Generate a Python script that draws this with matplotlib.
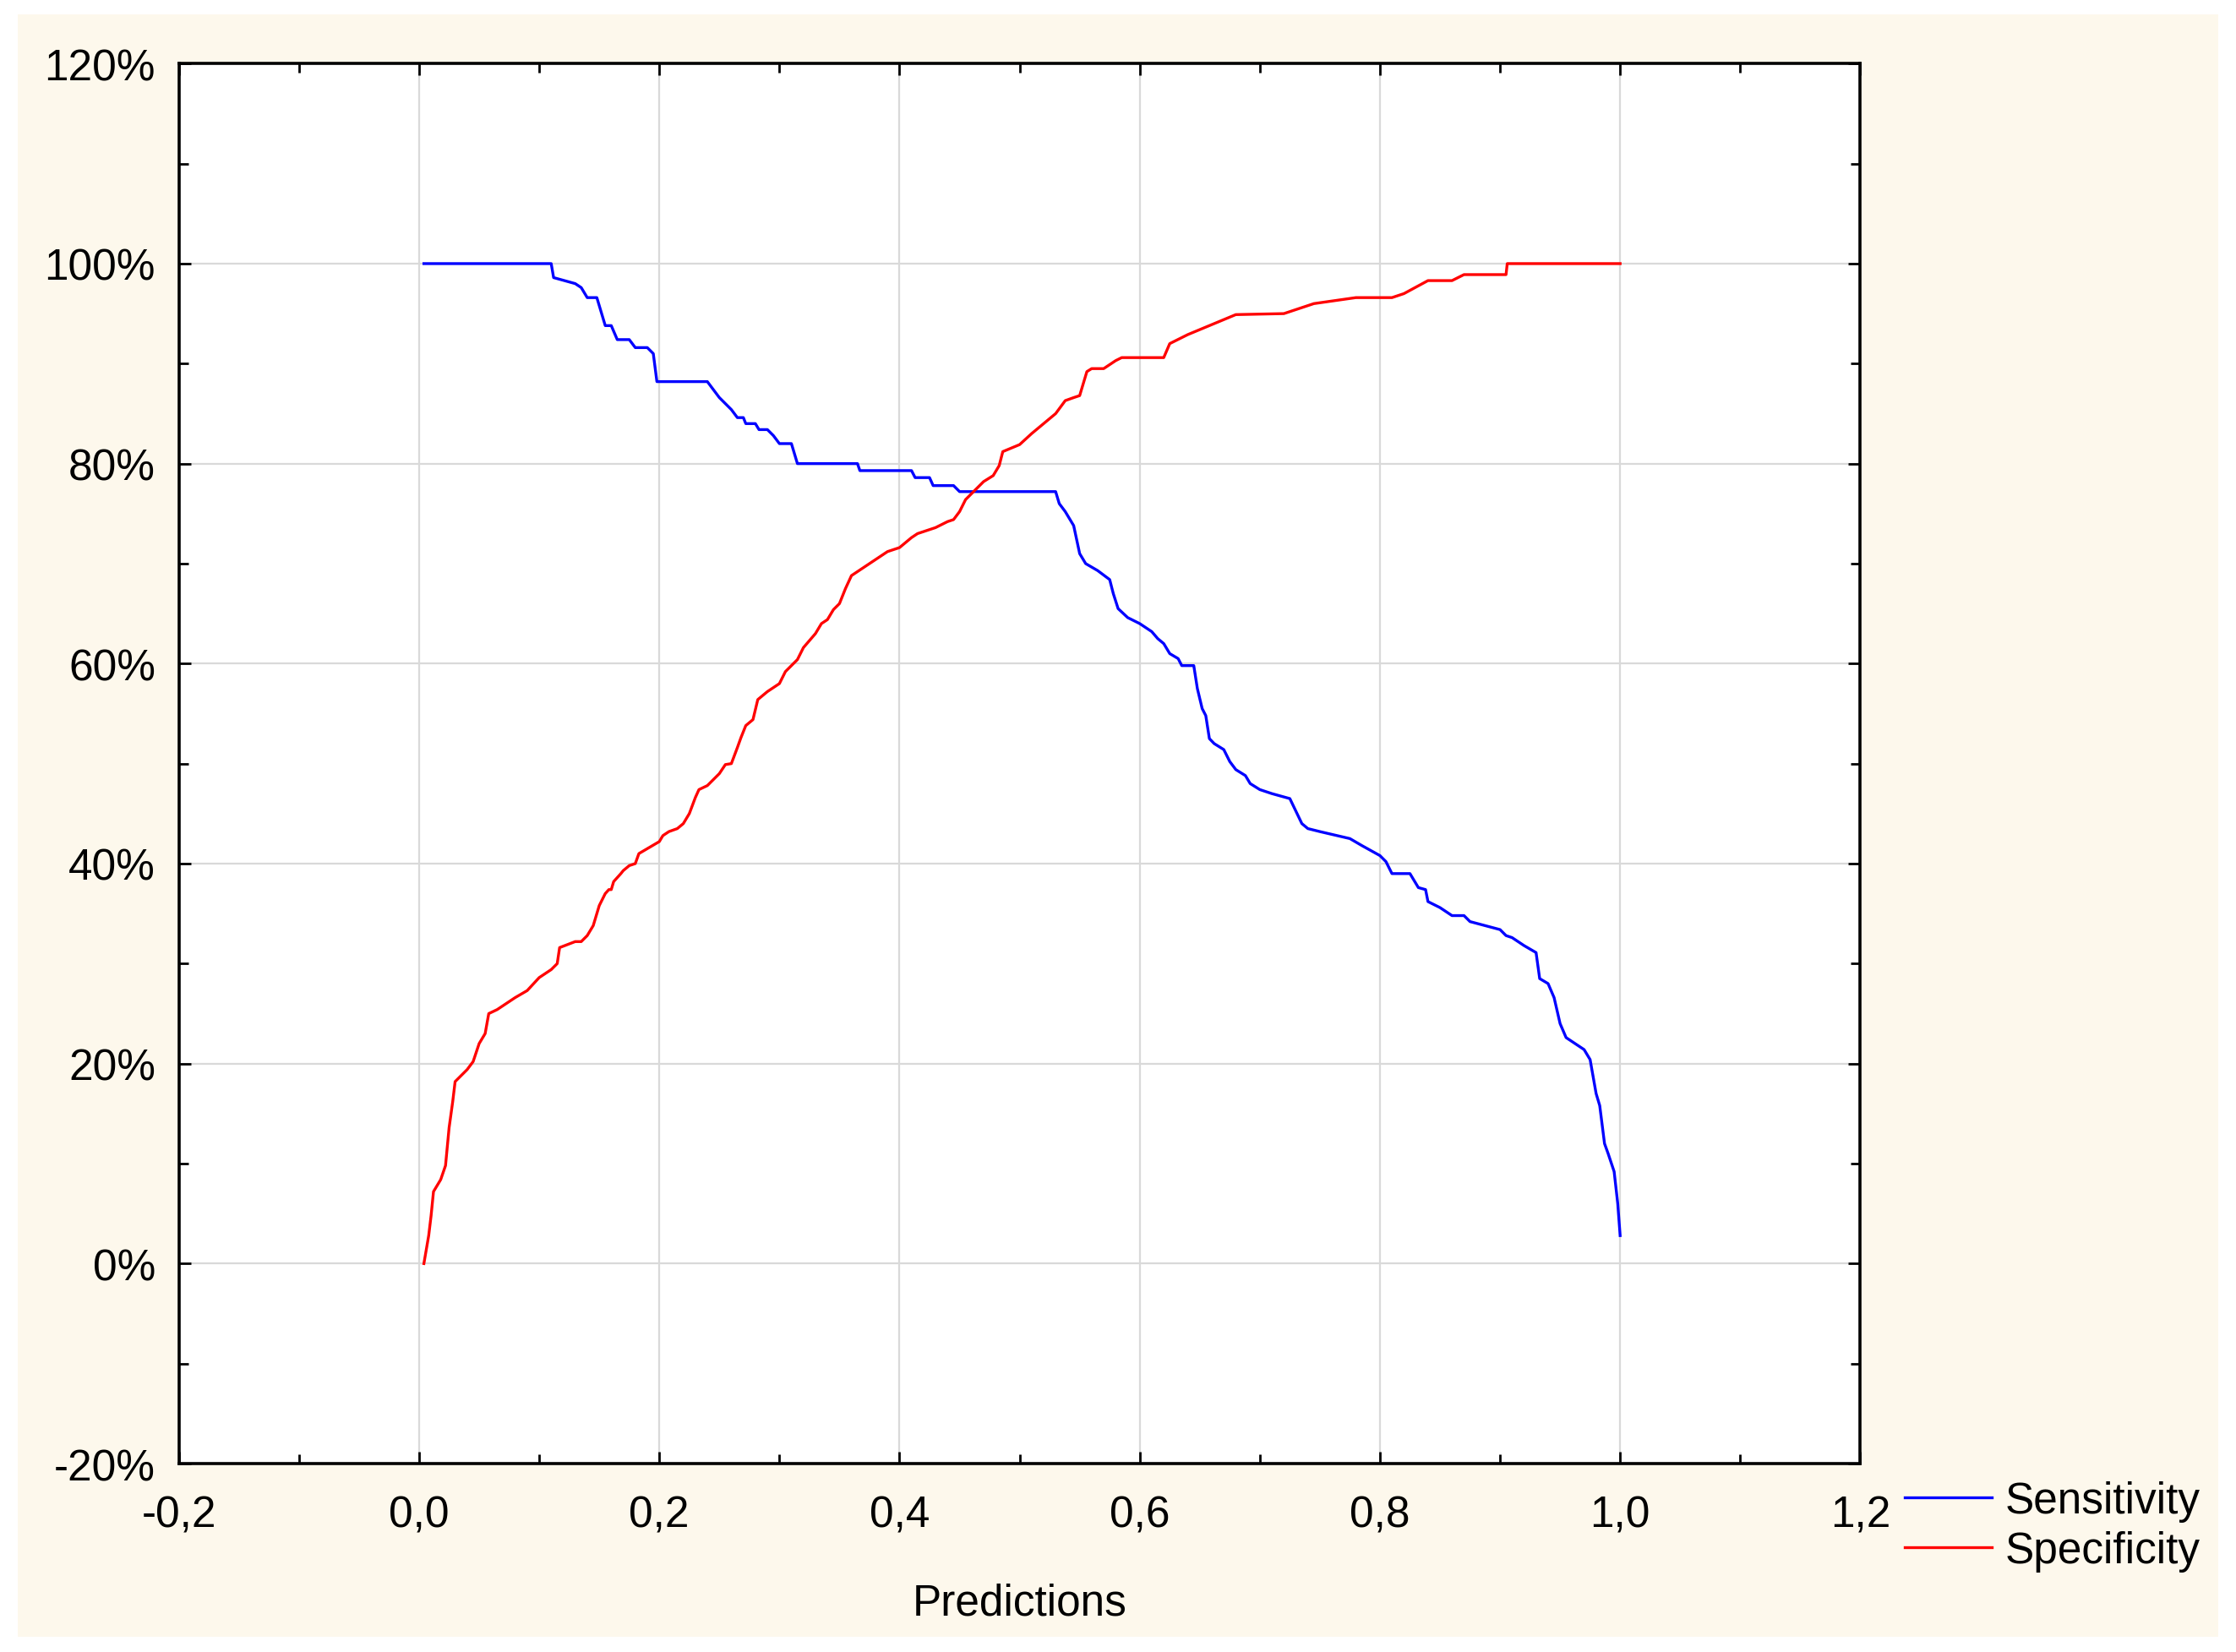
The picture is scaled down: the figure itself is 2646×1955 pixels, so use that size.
import matplotlib
matplotlib.use("Agg")
import matplotlib.pyplot as plt
from matplotlib.ticker import MultipleLocator, FuncFormatter
from matplotlib.patches import Rectangle

sens_x = [0.004,0.110,0.112,0.13,0.135,0.14,0.148,0.155,0.16,0.165,0.175,0.18,0.19,0.195,0.198,0.24,0.245,0.25,0.255,0.26,0.265,0.27,0.272,0.28,0.283,0.29,0.295,0.30,0.31,0.315,0.365,0.367,0.41,0.413,0.425,0.428,0.445,0.45,0.53,0.533,0.538,0.545,0.55,0.555,0.565,0.575,0.578,0.582,0.59,0.60,0.61,0.615,0.62,0.625,0.632,0.635,0.645,0.648,0.652,0.655,0.658,0.662,0.67,0.675,0.68,0.688,0.692,0.70,0.71,0.725,0.735,0.74,0.75,0.775,0.785,0.80,0.805,0.81,0.825,0.832,0.838,0.84,0.85,0.86,0.87,0.875,0.90,0.905,0.91,0.92,0.93,0.933,0.94,0.945,0.95,0.955,0.96,0.97,0.975,0.98,0.983,0.987,0.99,0.995,0.998,1.0]
sens_y = [100,100,98.6,98,97.6,96.6,96.6,93.8,93.8,92.4,92.4,91.6,91.6,91,88.2,88.2,87.4,86.6,86,85.4,84.6,84.6,84,84,83.4,83.4,82.8,82,82,80,80,79.3,79.3,78.6,78.6,77.8,77.8,77.2,77.2,76,75.2,73.8,71,70,69.3,68.4,67,65.5,64.6,64,63.2,62.5,62,61,60.5,59.8,59.8,57.5,55.5,54.8,52.5,52,51.4,50.2,49.4,48.8,48,47.4,47,46.5,44,43.5,43.2,42.5,41.8,40.8,40.2,39,39,37.6,37.4,36.2,35.6,34.8,34.8,34.2,33.4,32.8,32.6,31.8,31.1,28.5,28,26.6,24,22.6,22.2,21.4,20.4,17,15.8,12,11,9.2,6,2.8]

spec_x = [0.004,0.008,0.01,0.012,0.018,0.022,0.025,0.028,0.03,0.04,0.045,0.05,0.055,0.058,0.065,0.08,0.09,0.10,0.11,0.115,0.117,0.13,0.135,0.14,0.145,0.15,0.155,0.158,0.16,0.162,0.168,0.17,0.175,0.18,0.183,0.20,0.203,0.208,0.215,0.22,0.225,0.23,0.233,0.24,0.245,0.25,0.255,0.26,0.265,0.268,0.272,0.278,0.282,0.29,0.30,0.305,0.31,0.315,0.32,0.33,0.335,0.34,0.345,0.35,0.355,0.36,0.37,0.38,0.39,0.40,0.41,0.415,0.43,0.44,0.445,0.45,0.455,0.46,0.465,0.47,0.478,0.483,0.486,0.50,0.51,0.52,0.53,0.538,0.545,0.55,0.556,0.56,0.57,0.58,0.585,0.62,0.625,0.64,0.66,0.68,0.72,0.745,0.78,0.81,0.82,0.84,0.86,0.87,0.905,0.906,1.0]
spec_y = [0,2.8,4.8,7.2,8.4,9.8,13.6,16.2,18.2,19.4,20.2,22,23,25,25.4,26.6,27.3,28.6,29.4,30,31.6,32.2,32.2,32.8,33.8,35.8,37,37.4,37.4,38.2,39,39.3,39.8,40,41,42.2,42.8,43.2,43.5,44,45,46.6,47.4,47.8,48.4,49,49.9,50,51.6,52.6,53.8,54.4,56.4,57.2,58,59.2,59.8,60.4,61.6,63,64,64.4,65.4,66,67.5,68.8,69.6,70.4,71.2,71.6,72.6,73,73.6,74.2,74.4,75.2,76.4,77,77.6,78.2,78.8,79.8,81.2,81.9,83,84,85,86.3,86.6,86.8,89.2,89.5,89.5,90.3,90.6,90.6,92,92.9,93.9,94.9,95,96,96.6,96.6,97,98.3,98.3,98.9,98.9,100,100]

plt.rcParams['font.family'] = ['Liberation Sans', 'DejaVu Sans']
fig = plt.figure(figsize=(13.23, 9.78), dpi=200, facecolor='white')
fig.patches.append(Rectangle((0.008, 0.009), 0.984, 0.982, transform=fig.transFigure,
                             facecolor='#fdf8ec', edgecolor='none', zorder=-10))
ax = fig.add_axes([0.080, 0.114, 0.752, 0.847])
ax.set_facecolor('white')
ax.plot(sens_x, sens_y, color='#0000ff', lw=1.2, label='Sensitivity')
ax.plot(spec_x, spec_y, color='#ff0000', lw=1.2, label='Specificity')
ax.set_xlim(-0.2, 1.2)
ax.set_ylim(-20, 120)
ax.xaxis.set_major_locator(MultipleLocator(0.2))
ax.xaxis.set_minor_locator(MultipleLocator(0.1))
ax.yaxis.set_major_locator(MultipleLocator(20))
ax.yaxis.set_minor_locator(MultipleLocator(10))
ax.xaxis.set_major_formatter(FuncFormatter(lambda v, p: f"{v:.1f}".replace('.', ',').replace('-0,0', '0,0')))
ax.yaxis.set_major_formatter(FuncFormatter(lambda v, p: f"{v:.0f}%"))
ax.grid(True, which='major', color='#d9d9d9', lw=0.8)
ax.set_axisbelow(True)
ax.tick_params(which='both', direction='in', top=True, right=True, labelsize=18.5, color='black', width=1)
ax.tick_params(which='major', length=5)
ax.tick_params(axis='x', which='major', pad=13)
ax.tick_params(axis='y', which='major', pad=10)
ax.tick_params(which='minor', length=4)
for s in ax.spines.values():
    s.set_linewidth(1.3)
ax.set_xlabel('Predictions', fontsize=18.5, labelpad=20)
ax.legend(loc='upper left', bbox_to_anchor=(0.852, 0.104), bbox_transform=fig.transFigure,
          frameon=False, fontsize=18.5, handlelength=2.0, labelspacing=0.2, handletextpad=0.3,
          borderpad=0, borderaxespad=0)
fig.savefig('out.png', dpi=200, facecolor=fig.get_facecolor())
